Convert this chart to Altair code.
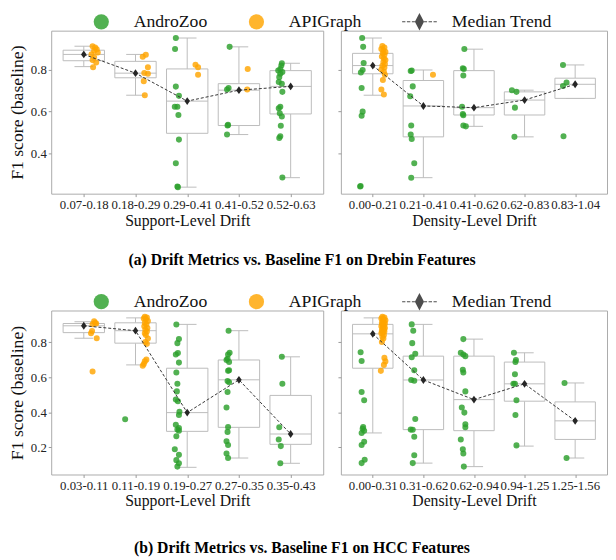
import json
import altair as alt
import pandas as pd

FONT = "Liberation Serif"
GREEN = "#2ca02c"
ORANGE = "#ffa500"
DARK = "#262626"
GRAY = "#bcbcbc"
GROUPS = ["AndroZoo", "APIGraph", "Median Trend"]

# ---------------- (a) Drebin, support-level drift ----------------
A_SUP_BINS = ["0.07-0.18", "0.18-0.29", "0.29-0.41", "0.41-0.52", "0.52-0.63"]
A_SUP_WLO = [0.814, 0.678, 0.241, 0.491, 0.286]
A_SUP_Q1 = [0.842, 0.761, 0.497, 0.534, 0.589]
A_SUP_MED = [0.872, 0.783, 0.650, 0.702, 0.720]
A_SUP_Q3 = [0.892, 0.839, 0.803, 0.733, 0.795]
A_SUP_WHI = [0.911, 0.872, 0.950, 0.908, 0.830]
A_SUP_AZ_VAL = [[], [],
                [0.950, 0.898, 0.719, 0.675, 0.623, 0.623, 0.584, 0.467, 0.355, 0.244, 0.241],
                [0.908, 0.712, 0.705, 0.537, 0.534, 0.491],
                [0.830, 0.819, 0.803, 0.795, 0.788, 0.780, 0.764, 0.741, 0.733, 0.694, 0.623, 0.616,
                 0.592, 0.577, 0.533, 0.483, 0.475, 0.287]]
A_SUP_AZ_OFF = [[], [],
                [-0.22, -0.235, -0.22, -0.16, -0.24, -0.19, -0.17, -0.16, -0.22, -0.19, -0.18],
                [-0.18, -0.20, -0.23, -0.21, -0.22, -0.23],
                [-0.17, -0.18, -0.20, -0.24, -0.16, -0.20, -0.22, -0.23, -0.17, -0.16, -0.20, -0.23,
                 -0.21, -0.17, -0.19, -0.20, -0.22, -0.16]]
A_SUP_AG_VAL = [[0.911, 0.905, 0.897, 0.889, 0.881, 0.873, 0.858, 0.845, 0.834, 0.811],
                [0.870, 0.861, 0.811, 0.784, 0.780, 0.745, 0.678],
                [0.823, 0.811, 0.775],
                [0.803, 0.705],
                []]
A_SUP_AG_OFF = [[0.17, 0.22, 0.25, 0.20, 0.27, 0.15, 0.20, 0.17, 0.24, 0.18],
                [0.20, 0.14, 0.24, 0.17, 0.24, 0.16, 0.18],
                [0.16, 0.21, 0.21],
                [0.17, 0.16],
                []]

# ---------------- (a) Drebin, density-level drift ----------------
A_DEN_BINS = ["0.00-0.21", "0.21-0.41", "0.41-0.62", "0.62-0.83", "0.83-1.04"]
A_DEN_WLO = [0.678, 0.286, 0.530, 0.480, 0.663]
A_DEN_Q1 = [0.780, 0.480, 0.584, 0.584, 0.663]
A_DEN_MED = [0.819, 0.627, 0.619, 0.655, 0.730]
A_DEN_Q3 = [0.877, 0.748, 0.795, 0.694, 0.759]
A_DEN_WHI = [0.950, 0.798, 0.897, 0.702, 0.822]
A_DEN_AZ_VAL = [[0.950, 0.908, 0.831, 0.798, 0.786, 0.712, 0.600, 0.580, 0.246, 0.244],
                [0.795, 0.793, 0.720, 0.673, 0.534, 0.491, 0.470, 0.355, 0.286],
                [0.898, 0.806, 0.803, 0.772, 0.623, 0.589, 0.583, 0.534, 0.530],
                [0.702, 0.694, 0.619, 0.480],
                [0.822, 0.738, 0.722, 0.483]]
A_DEN_AZ_OFF = [[-0.21, -0.19, -0.18, -0.20, -0.235, -0.22, -0.20, -0.22, -0.24, -0.25],
                [-0.23, -0.25, -0.21, -0.26, -0.24, -0.25, -0.23, -0.18, -0.24],
                [-0.19, -0.22, -0.20, -0.21, -0.235, -0.22, -0.21, -0.21, -0.16],
                [-0.25, -0.16, -0.19, -0.20],
                [-0.24, -0.17, -0.24, -0.23]]
A_DEN_AG_VAL = [[0.912, 0.905, 0.898, 0.891, 0.884, 0.877, 0.870, 0.862, 0.853, 0.845, 0.836, 0.826,
                 0.818, 0.810, 0.800, 0.790, 0.775, 0.750, 0.705, 0.681],
                [0.775], [], [], []]
A_DEN_AG_OFF = [[0.19, 0.23, 0.17, 0.21, 0.25, 0.20, 0.23, 0.18, 0.22, 0.25, 0.21, 0.24,
                 0.19, 0.23, 0.17, 0.22, 0.24, 0.20, 0.17, 0.22],
                [0.19], [], [], []]

# ---------------- (b) HCC, support-level drift ----------------
B_SUP_BINS = ["0.03-0.11", "0.11-0.19", "0.19-0.27", "0.27-0.35", "0.35-0.43"]
B_SUP_WLO = [0.822, 0.670, 0.086, 0.139, 0.109]
B_SUP_Q1 = [0.854, 0.794, 0.291, 0.314, 0.217]
B_SUP_MED = [0.893, 0.865, 0.398, 0.585, 0.276]
B_SUP_Q3 = [0.906, 0.910, 0.651, 0.698, 0.496]
B_SUP_WHI = [0.916, 0.938, 0.901, 0.865, 0.716]
B_SUP_AZ_VAL = [[], [0.360],
                [0.900, 0.817, 0.794, 0.738, 0.729, 0.683, 0.627, 0.562, 0.519, 0.472, 0.463, 0.403,
                 0.384, 0.329, 0.310, 0.301, 0.295, 0.263, 0.189, 0.157, 0.127, 0.109, 0.090],
                [0.865, 0.739, 0.729, 0.705, 0.698, 0.686, 0.640, 0.636, 0.578, 0.571, 0.515, 0.427,
                 0.316, 0.288, 0.235, 0.213, 0.165, 0.139],
                [0.716, 0.562, 0.314, 0.245, 0.207, 0.109]]
B_SUP_AZ_OFF = [[], [-0.20],
                [-0.21, -0.16, -0.19, -0.18, -0.22, -0.16, -0.21, -0.19, -0.20, -0.22, -0.18, -0.15,
                 -0.16, -0.22, -0.16, -0.19, -0.16, -0.21, -0.24, -0.16, -0.21, -0.16, -0.19],
                [-0.20, -0.18, -0.21, -0.22, -0.24, -0.19, -0.19, -0.21, -0.22, -0.19, -0.22, -0.24,
                 -0.21, -0.22, -0.24, -0.21, -0.24, -0.21],
                [-0.17, -0.16, -0.22, -0.23, -0.19, -0.20]]
B_SUP_AG_VAL = [[0.919, 0.910, 0.902, 0.906, 0.863, 0.850, 0.822, 0.632],
                [0.945, 0.940, 0.935, 0.930, 0.920, 0.910, 0.900, 0.890, 0.880, 0.870, 0.860, 0.850,
                 0.840, 0.820, 0.800, 0.790, 0.700, 0.690, 0.675, 0.665],
                [], [], []]
B_SUP_AG_OFF = [[0.20, 0.22, 0.17, 0.24, 0.16, 0.14, 0.25, 0.17],
                [0.18, 0.22, 0.16, 0.20, 0.24, 0.18, 0.21, 0.17, 0.23, 0.19, 0.22, 0.18,
                 0.20, 0.24, 0.19, 0.22, 0.21, 0.18, 0.16, 0.14],
                [], [], []]

# ---------------- (b) HCC, density-level drift ----------------
B_DEN_BINS = ["0.00-0.31", "0.31-0.62", "0.62-0.94", "0.94-1.25", "1.25-1.56"]
B_DEN_WLO = [0.282, 0.110, 0.090, 0.207, 0.139]
B_DEN_Q1 = [0.651, 0.301, 0.295, 0.463, 0.245]
B_DEN_MED = [0.847, 0.584, 0.472, 0.562, 0.351]
B_DEN_Q3 = [0.901, 0.720, 0.720, 0.686, 0.459]
B_DEN_WHI = [0.938, 0.901, 0.817, 0.739, 0.567]
B_DEN_AZ_VAL = [[0.742, 0.692, 0.515, 0.468, 0.316, 0.306, 0.295, 0.282, 0.232, 0.213, 0.129, 0.110],
                [0.901, 0.865, 0.794, 0.733, 0.714, 0.640, 0.584, 0.580, 0.362, 0.301, 0.300, 0.260,
                 0.155, 0.110],
                [0.817, 0.739, 0.729, 0.720, 0.642, 0.627, 0.519, 0.427, 0.398, 0.332, 0.314, 0.245,
                 0.189, 0.165, 0.090],
                [0.739, 0.698, 0.686, 0.617, 0.562, 0.562, 0.468, 0.384, 0.211],
                [0.567, 0.139]]
B_DEN_AZ_OFF = [[-0.24, -0.22, -0.22, -0.17, -0.19, -0.20, -0.17, -0.22, -0.17, -0.22, -0.16, -0.22],
                [-0.23, -0.20, -0.22, -0.16, -0.23, -0.18, -0.24, -0.18, -0.16, -0.25, -0.21, -0.18,
                 -0.18, -0.21],
                [-0.21, -0.26, -0.21, -0.17, -0.22, -0.21, -0.17, -0.24, -0.19, -0.17, -0.17, -0.26,
                 -0.22, -0.21, -0.20],
                [-0.21, -0.17, -0.18, -0.19, -0.22, -0.19, -0.16, -0.18, -0.16],
                [-0.21, -0.17]]
B_DEN_AG_VAL = [[0.945, 0.940, 0.935, 0.930, 0.925, 0.920, 0.915, 0.910, 0.905, 0.900, 0.895, 0.890,
                 0.885, 0.880, 0.875, 0.870, 0.865, 0.860, 0.855, 0.850, 0.840, 0.830, 0.820, 0.800,
                 0.710, 0.690, 0.670, 0.636],
                [], [], [], []]
B_DEN_AG_OFF = [[0.19, 0.23, 0.17, 0.21, 0.25, 0.20, 0.22, 0.18, 0.24, 0.19, 0.22, 0.17,
                 0.21, 0.24, 0.19, 0.22, 0.18, 0.23, 0.20, 0.17, 0.22, 0.19, 0.21, 0.18,
                 0.23, 0.25, 0.22, 0.16],
                [], [], [], []]

TOP_DOMAIN = [0.21, 0.985]
TOP_TICKS = [0.4, 0.6, 0.8]
BOT_DOMAIN = [0.045, 0.98]
BOT_TICKS = [0.2, 0.4, 0.6, 0.8]

DIAMOND = "M0,-1L0.7,0L0,1L-0.7,0Z"
LEGEND_DIAMOND = ("M0,-1.15L0.6,0L0,1.15L-0.6,0Z"
                  "M-2.28,-0.07H-1.85V0.07H-2.28Z"
                  "M-1.65,-0.07H-1.2V0.07H-1.65Z"
                  "M-1.0,-0.07H-0.6V0.07H-1.0Z"
                  "M0.6,-0.07H1.0V0.07H0.6Z"
                  "M1.2,-0.07H1.65V0.07H1.2Z"
                  "M1.85,-0.07H2.28V0.07H1.85Z")

color_scale = alt.Scale(domain=GROUPS, range=[GREEN, ORANGE, DARK])
shape_scale = alt.Scale(domain=GROUPS, range=["circle", "circle", LEGEND_DIAMOND])
legend = alt.Legend(title=None, orient="none", legendX=42, legendY=-18, direction="horizontal",
                    labelFont=FONT, labelFontSize=18, labelColor="#111", padding=0,
                    symbolSize=240, labelOffset=24, columnPadding=41)


def points_frame(az_val, az_off, ag_val, ag_off):
    rows = []
    for i in range(len(az_val)):
        for v, o in zip(az_val[i], az_off[i]):
            rows.append({"bin": i, "off": o, "val": v, "grp": "AndroZoo"})
        for v, o in zip(ag_val[i], ag_off[i]):
            rows.append({"bin": i, "off": o, "val": v, "grp": "APIGraph"})
    return pd.DataFrame(rows)


def panel(bins, wlo, q1, med, q3, whi, pts, ydom, yticks, xtitle, left, width, height):
    box = pd.DataFrame({"i": list(range(len(bins))), "wlo": wlo, "q1": q1, "med": med,
                        "q3": q3, "whi": whi})
    xscale = alt.Scale(domain=[-0.63, len(bins) - 1 + 0.63], nice=False, zero=False)
    yscale = alt.Scale(domain=ydom, nice=False, zero=False)
    xaxis = alt.Axis(values=list(range(len(bins))), labelExpr=json.dumps(bins) + "[datum.value]",
                     title=xtitle, grid=False)
    yaxis = alt.Axis(values=yticks, format=".1f", grid=False, labels=left,
                     title="F1 score (baseline)" if left else None)

    def X(f):
        return alt.X(f, type="quantitative", scale=xscale, axis=xaxis)

    def Y(f):
        return alt.Y(f, type="quantitative", scale=yscale, axis=yaxis)

    base = alt.Chart(box).transform_calculate(
        a="datum.i - 0.4", b="datum.i + 0.4", ca="datum.i - 0.18", cb="datum.i + 0.18")
    whisk_hi = base.mark_rule(color=GRAY, strokeWidth=1).encode(x=X("i"), y=Y("q3"), y2="whi")
    whisk_lo = base.mark_rule(color=GRAY, strokeWidth=1).encode(x=X("i"), y=Y("wlo"), y2="q1")
    cap_hi = base.mark_rule(color=GRAY, strokeWidth=1).encode(x=X("ca"), x2="cb", y=Y("whi"))
    cap_lo = base.mark_rule(color=GRAY, strokeWidth=1).encode(x=X("ca"), x2="cb", y=Y("wlo"))
    boxes = base.mark_rect(fill="white", stroke=GRAY, strokeWidth=1).encode(
        x=X("a"), x2="b", y=Y("q1"), y2="q3")
    medline = base.mark_rule(color=GRAY, strokeWidth=1).encode(x=X("a"), x2="b", y=Y("med"))
    dots = alt.Chart(pts).transform_calculate(px="datum.bin + datum.off").mark_point(
        filled=True, size=38, opacity=0.82).encode(
        x=X("px"), y=Y("val"),
        color=alt.Color("grp:N", scale=color_scale, legend=legend),
        shape=alt.Shape("grp:N", scale=shape_scale, legend=legend))
    trend = base.mark_line(color="#333333", strokeWidth=1, strokeDash=[3, 2]).encode(
        x=X("i"), y=Y("med"))
    diamonds = base.mark_point(shape=DIAMOND, filled=True, size=64, color=DARK, opacity=1).encode(
        x=X("i"), y=Y("med"))
    return alt.layer(whisk_hi, whisk_lo, cap_hi, cap_lo, boxes, medline, dots, trend,
                     diamonds).properties(width=width, height=height)


a_left = panel(A_SUP_BINS, A_SUP_WLO, A_SUP_Q1, A_SUP_MED, A_SUP_Q3, A_SUP_WHI,
               points_frame(A_SUP_AZ_VAL, A_SUP_AZ_OFF, A_SUP_AG_VAL, A_SUP_AG_OFF),
               TOP_DOMAIN, TOP_TICKS, "Support-Level Drift", True, 277, 166)
a_right = panel(A_DEN_BINS, A_DEN_WLO, A_DEN_Q1, A_DEN_MED, A_DEN_Q3, A_DEN_WHI,
                points_frame(A_DEN_AZ_VAL, A_DEN_AZ_OFF, A_DEN_AG_VAL, A_DEN_AG_OFF),
                TOP_DOMAIN, TOP_TICKS, "Density-Level Drift", False, 271, 166)
b_left = panel(B_SUP_BINS, B_SUP_WLO, B_SUP_Q1, B_SUP_MED, B_SUP_Q3, B_SUP_WHI,
               points_frame(B_SUP_AZ_VAL, B_SUP_AZ_OFF, B_SUP_AG_VAL, B_SUP_AG_OFF),
               BOT_DOMAIN, BOT_TICKS, "Support-Level Drift", True, 277, 167)
b_right = panel(B_DEN_BINS, B_DEN_WLO, B_DEN_Q1, B_DEN_MED, B_DEN_Q3, B_DEN_WHI,
                points_frame(B_DEN_AZ_VAL, B_DEN_AZ_OFF, B_DEN_AG_VAL, B_DEN_AG_OFF),
                BOT_DOMAIN, BOT_TICKS, "Density-Level Drift", False, 271, 167)


def row(l, r, text, offset):
    return alt.hconcat(l, r, spacing=13).properties(
        title=alt.TitleParams(text, orient="bottom", anchor="middle", font=FONT, fontSize=16,
                              fontWeight="bold", color="#000", offset=offset, dx=-6))


chart = alt.vconcat(
    row(a_left, a_right, "(a) Drift Metrics vs. Baseline F1 on Drebin Features", 24),
    row(b_left, b_right, "(b) Drift Metrics vs. Baseline F1 on HCC Features", 31),
    spacing=25,
).resolve_scale(color="independent", shape="independent").properties(
    padding={"left": 0, "top": 0, "right": 0, "bottom": 0}
).configure_view(stroke="#aaaaaa", strokeWidth=1).configure_axis(
    labelFont=FONT, titleFont=FONT, labelFontSize=13, titleFontSize=16, titleFontWeight="normal",
    labelColor="#222", titleColor="#111", domain=False, tickColor="#999", tickSize=3,
    labelPadding=2, titlePadding=1
).configure_axisY(titleFontSize=18, titlePadding=4)

chart.save("out.html", embed_options={"renderer": "svg", "actions": False})
